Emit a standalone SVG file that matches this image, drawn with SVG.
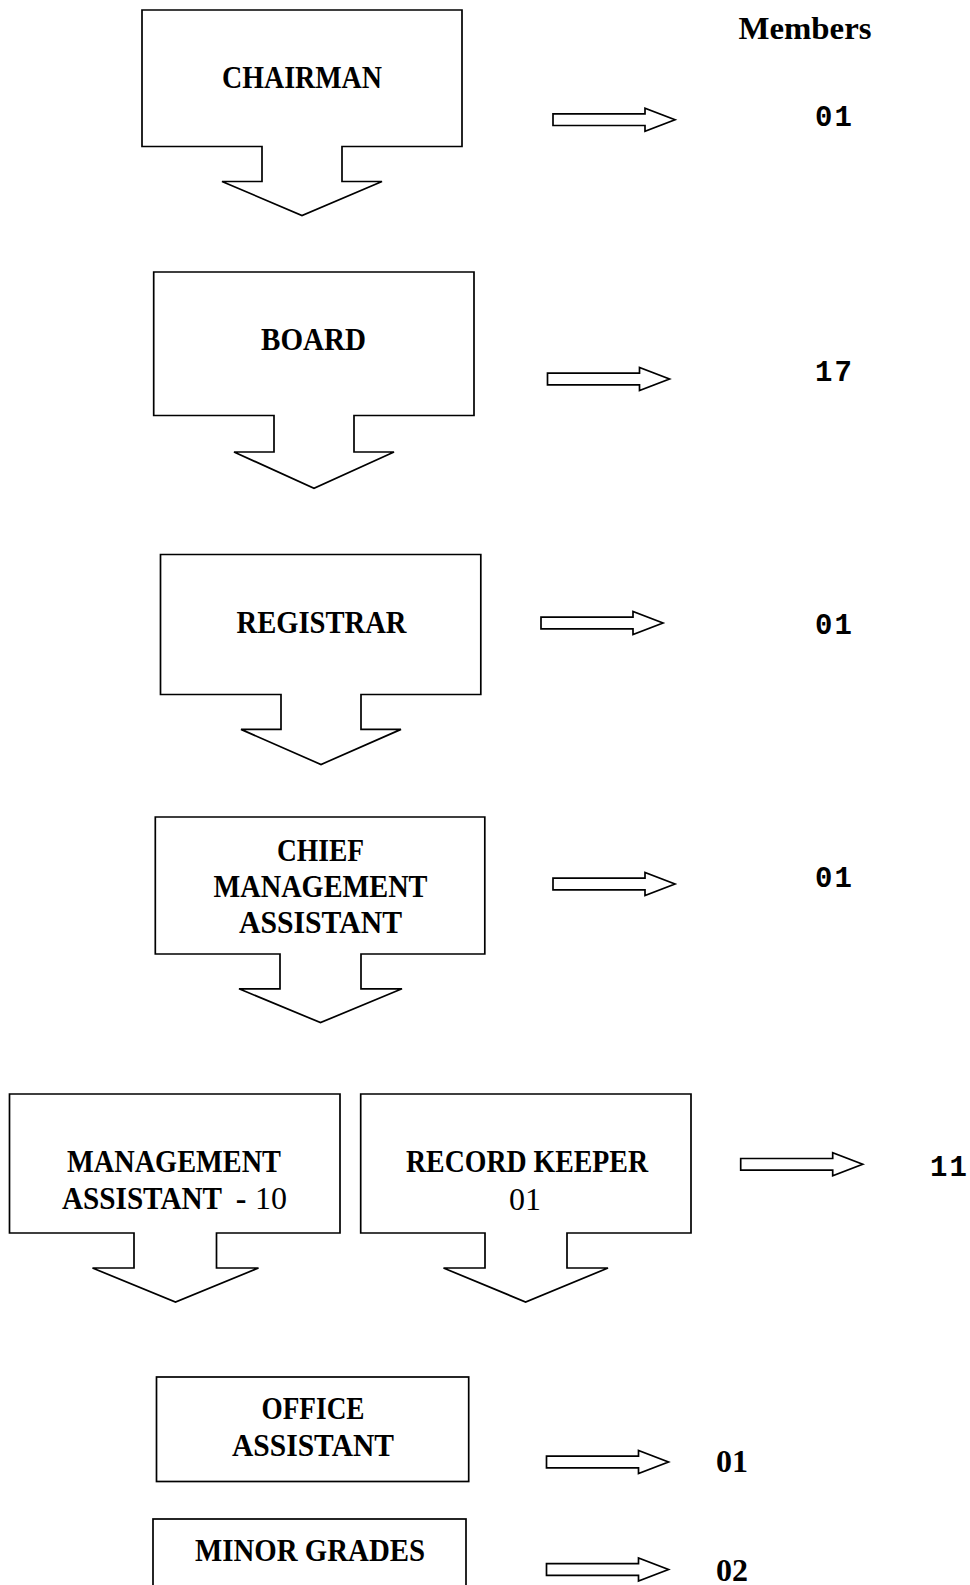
<svg xmlns="http://www.w3.org/2000/svg" xmlns:xlink="http://www.w3.org/1999/xlink" width="970" height="1585" viewBox="0 0 970 1585">
<style>
.shape{fill:#fff;stroke:#000;stroke-width:1.7;stroke-linejoin:miter}
.lbl{font-family:"Liberation Serif","Times New Roman",serif;font-weight:bold;font-size:32px;fill:#000;text-anchor:middle}
.reg{font-family:"Liberation Serif","Times New Roman",serif;font-weight:normal;font-size:32px;fill:#000}
.num{font-family:"Liberation Mono","Courier New",monospace;font-weight:bold;font-size:29px;letter-spacing:2px;fill:#000}
.snum{font-family:"Liberation Serif","Times New Roman",serif;font-weight:bold;font-size:32px;fill:#000}
</style>
<defs>
<path id="blk" class="shape" d="M0,-5.8 H92 V-11.5 L122,0 L92,11.5 V5.8 H0 Z"/>
</defs>
<rect width="970" height="1585" fill="#fff"/>

<text x="738.5" y="39" class="snum" font-size="32" textLength="133" lengthAdjust="spacingAndGlyphs">Members</text>

<g id="chairman">
<path class="shape" d="M142,10 H462 V146.5 H342 V181.5 H382 L302,215.5 L222,181.5 H262 V146.5 H142 Z"/>
<text class="lbl" x="302" y="88" textLength="160" lengthAdjust="spacingAndGlyphs">CHAIRMAN</text>
</g>

<g id="board">
<path class="shape" d="M153.7,272 H474 V415.5 H354 V452 H394 L314,488.2 L234,452 H274 V415.5 H153.7 Z"/>
<text class="lbl" x="313.5" y="350" textLength="105" lengthAdjust="spacingAndGlyphs">BOARD</text>
</g>

<g id="registrar">
<path class="shape" d="M160.5,554.5 H480.8 V694.5 H361 V729.4 H401 L321,764.5 L241,729.4 H281 V694.5 H160.5 Z"/>
<text class="lbl" x="321.5" y="633" textLength="170" lengthAdjust="spacingAndGlyphs">REGISTRAR</text>
</g>

<g id="chief-management-assistant">
<path class="shape" d="M155.3,817 H484.8 V954 H361 V988.8 H402 L320.5,1022.6 L239,988.8 H280 V954 H155.3 Z"/>
<text class="lbl" x="320.5" y="860.5" textLength="87" lengthAdjust="spacingAndGlyphs">CHIEF</text>
<text class="lbl" x="320.5" y="896.5" textLength="214" lengthAdjust="spacingAndGlyphs">MANAGEMENT</text>
<text class="lbl" x="320.5" y="933" textLength="163" lengthAdjust="spacingAndGlyphs">ASSISTANT</text>
</g>

<g id="management-assistant">
<path class="shape" d="M9.5,1094 H340 V1233 H216.5 V1268 H258.5 L175.5,1302 L92.5,1268 H134 V1233 H9.5 Z"/>
<text class="lbl" x="174" y="1172" textLength="214" lengthAdjust="spacingAndGlyphs">MANAGEMENT</text>
<text class="lbl" x="62" y="1209" style="text-anchor:start" textLength="160" lengthAdjust="spacingAndGlyphs">ASSISTANT</text>
<text class="lbl" x="241" y="1209">-</text>
<text class="reg" x="255" y="1209">10</text>
</g>

<g id="record-keeper">
<path class="shape" d="M360.7,1094 H691 V1233 H567 V1268 H608 L525.6,1302 L443.5,1268 H485 V1233 H360.7 Z"/>
<text class="lbl" x="527" y="1172" textLength="242" lengthAdjust="spacingAndGlyphs">RECORD KEEPER</text>
<text class="reg" x="525" y="1210" text-anchor="middle">01</text>
</g>

<g id="office-assistant">
<rect class="shape" x="156.5" y="1377" width="312.2" height="104.5"/>
<text class="lbl" x="313" y="1419" textLength="103" lengthAdjust="spacingAndGlyphs">OFFICE</text>
<text class="lbl" x="313" y="1455.5" textLength="162" lengthAdjust="spacingAndGlyphs">ASSISTANT</text>
</g>

<g id="minor-grades">
<rect class="shape" x="153" y="1519" width="313" height="100"/>
<text class="lbl" x="310" y="1561" textLength="230" lengthAdjust="spacingAndGlyphs">MINOR GRADES</text>
</g>

<g id="connectors">
<use xlink:href="#blk" x="553" y="119.7"/>
<use xlink:href="#blk" x="547.5" y="379"/>
<use xlink:href="#blk" x="541" y="623"/>
<use xlink:href="#blk" x="553" y="884"/>
<use xlink:href="#blk" x="740.7" y="1164.3"/>
<use xlink:href="#blk" x="546.5" y="1462"/>
<use xlink:href="#blk" x="546.5" y="1569.5"/>
</g>

<g id="counts">
<text class="num" x="815" y="126">01</text>
<text class="num" x="815" y="380.5">17</text>
<text class="num" x="815" y="633.5">01</text>
<text class="num" x="815" y="887">01</text>
<text class="num" x="930" y="1176">11</text>
<text class="snum" x="716" y="1471.5">01</text>
<text class="snum" x="716" y="1580.5">02</text>
</g>
</svg>
